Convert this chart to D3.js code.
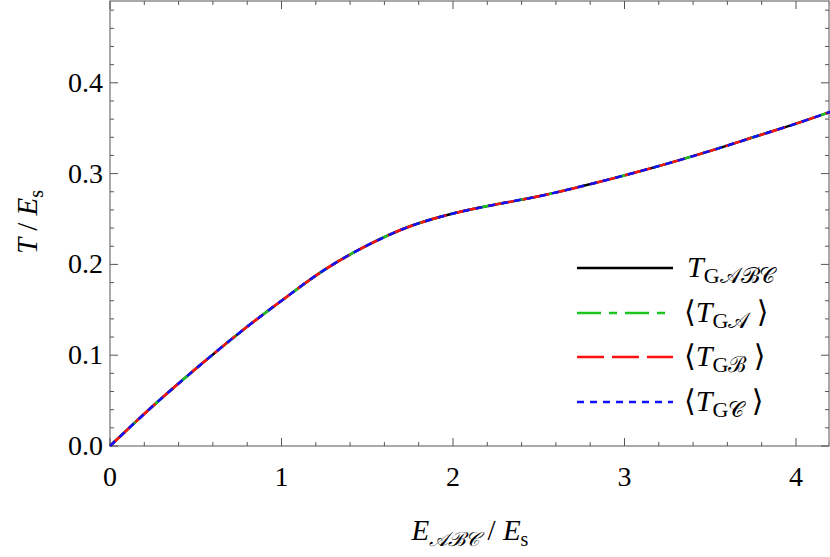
<!DOCTYPE html>
<html>
<head>
<meta charset="utf-8">
<script src="https://cdn.jsdelivr.net/npm/d3@7"></script>
<style>
  body { margin: 0; background: #fff; }
</style>
</head>
<body>
<svg id="chart" width="830" height="557" font-family="'Liberation Serif', 'Times New Roman', 'DejaVu Serif', serif"></svg>
<script>
// curve (all four series coincide)
const xVals = [0, 0.25, 0.5, 0.75, 1, 1.25, 1.5, 1.75, 2, 2.25, 2.5, 2.75, 3, 3.25, 3.5, 3.75, 4, 4.2];
const tVals = [0, 0.044, 0.085, 0.124, 0.160, 0.194, 0.221, 0.242, 0.256, 0.266, 0.275, 0.286, 0.298, 0.311, 0.325, 0.340, 0.355, 0.368];
const xTicks = [0, 1, 2, 3, 4];
const yTicks = [0, 0.1, 0.2, 0.3, 0.4];
const seriesNames = ["black", "green", "red", "blue"];

const LEFT = 110, RIGHT = 829, TOP = 1, BOTTOM = 446;

const svg = d3.select("#chart");
const x = d3.scaleLinear().domain([0, 4.2]).range([LEFT, LEFT + 171.5 * 4.2]);
const y = d3.scaleLinear().domain([0, 0.49]).range([BOTTOM, BOTTOM - 908 * 0.49]);

const styles = {
  black: { color: "#000", dash: null },
  green: { color: "#1ec31e", dash: "24,8,8,8" },
  red:   { color: "#ff1010", dash: "27,8" },
  blue:  { color: "#1010ff", dash: "7,6" },
};

// frame
svg.append("rect")
  .attr("x", LEFT).attr("y", TOP)
  .attr("width", RIGHT - LEFT).attr("height", BOTTOM - TOP)
  .attr("fill", "none").attr("stroke", "#555").attr("stroke-width", 1);

// ticks on all four sides, pointing inward
const xMinor = d3.range(0, 4.21, 0.2);
const yMinor = d3.range(0, 0.49, 0.02);
const tickG = svg.append("g").attr("stroke", "#555").attr("stroke-width", 1);
xMinor.forEach((v, i) => {
  const len = i % 5 === 0 ? 8 : 4;
  tickG.append("line").attr("x1", x(v)).attr("x2", x(v)).attr("y1", BOTTOM).attr("y2", BOTTOM - len);
  tickG.append("line").attr("x1", x(v)).attr("x2", x(v)).attr("y1", TOP).attr("y2", TOP + len);
});
yMinor.forEach((v, i) => {
  const len = i % 5 === 0 ? 8 : 4;
  tickG.append("line").attr("y1", y(v)).attr("y2", y(v)).attr("x1", LEFT).attr("x2", LEFT + len);
  tickG.append("line").attr("y1", y(v)).attr("y2", y(v)).attr("x1", RIGHT).attr("x2", RIGHT - len);
});

svg.selectAll(".xl").data(xTicks).join("text")
  .attr("x", d => x(d)).attr("y", BOTTOM + 40)
  .attr("text-anchor", "middle").attr("font-size", 28)
  .text(d => d);
svg.selectAll(".yl").data(yTicks).join("text")
  .attr("x", LEFT - 7).attr("y", d => y(d) + 9)
  .attr("text-anchor", "end").attr("font-size", 28)
  .text(d => d.toFixed(1));

// axis titles
const xt = svg.append("text").attr("x", 470).attr("y", 540)
  .attr("text-anchor", "middle").attr("font-size", 29);
xt.append("tspan").attr("font-style", "italic").text("E");
xt.append("tspan").attr("font-size", 20).attr("dy", 6).attr("font-style", "italic").text("𝒜ℬ𝒞");
xt.append("tspan").attr("dy", -6).text("  /  ");
xt.append("tspan").attr("font-style", "italic").text("E");
xt.append("tspan").attr("font-size", 20).attr("dy", 6).text("s");

const yt = svg.append("text").attr("transform", "translate(37,222) rotate(-90)")
  .attr("text-anchor", "middle").attr("font-size", 29);
yt.append("tspan").attr("font-style", "italic").text("T");
yt.append("tspan").text("  /  ");
yt.append("tspan").attr("font-style", "italic").text("E");
yt.append("tspan").attr("font-size", 20).attr("dy", 6).text("s");

// curves
const data = xVals.map((v, i) => [v, tVals[i]]);
const line = d3.line().x(d => x(d[0])).y(d => y(d[1])).curve(d3.curveCatmullRom);
seriesNames.forEach(name => {
  svg.append("path").datum(data)
    .attr("d", line).attr("fill", "none")
    .attr("stroke", styles[name].color).attr("stroke-width", 2.5)
    .attr("stroke-dasharray", styles[name].dash);
});

// legend
const legendLabels = [
  { sub: "G𝒜ℬ𝒞", br: false },
  { sub: "G𝒜", br: true },
  { sub: "Gℬ", br: true },
  { sub: "G𝒞", br: true },
];
const legY = [268, 313, 357, 402];
seriesNames.forEach((name, i) => {
  svg.append("line")
    .attr("x1", 577).attr("x2", 673).attr("y1", legY[i]).attr("y2", legY[i])
    .attr("stroke", styles[name].color).attr("stroke-width", 2.5)
    .attr("stroke-dasharray", styles[name].dash);
  const t = svg.append("text").attr("x", legendLabels[i].br ? 684 : 687)
    .attr("y", legY[i] + 9).attr("font-size", 30);
  if (legendLabels[i].br) t.append("tspan").text("⟨");
  t.append("tspan").attr("font-style", "italic").text("T");
  t.append("tspan").attr("font-size", 22).attr("dy", 6).text(legendLabels[i].sub);
  if (legendLabels[i].br) t.append("tspan").attr("dy", -6).text(" ⟩");
});
</script>
</body>
</html>
